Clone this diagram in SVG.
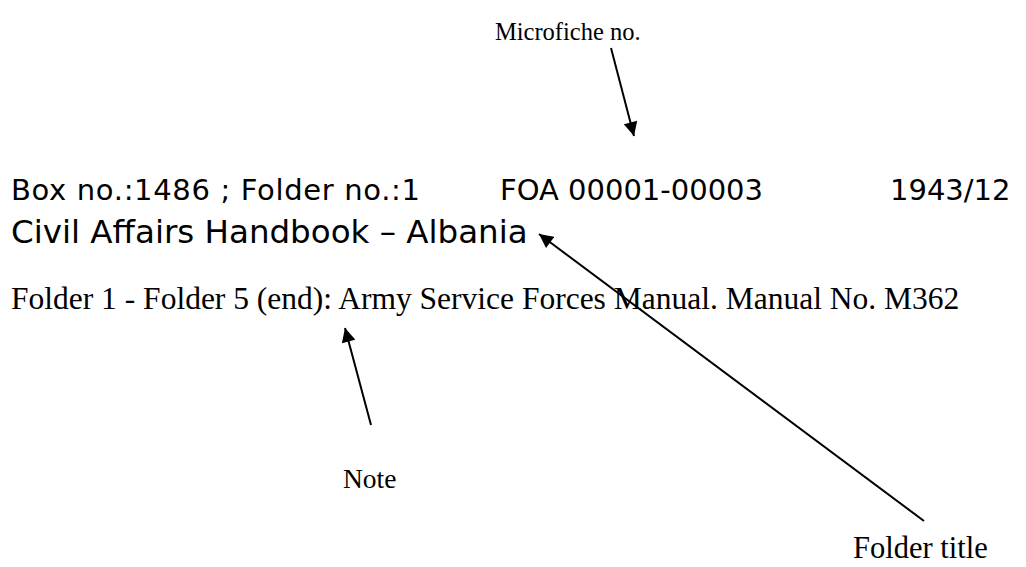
<svg xmlns="http://www.w3.org/2000/svg" width="1026" height="567" viewBox="0 0 1026 567">
<style>
.sans{font-family:"DejaVu Sans","Liberation Sans",sans-serif;font-size:29px;fill:#000}
.serif{font-family:"Liberation Serif","DejaVu Serif",serif;font-size:31.5px;fill:#000}
.conn{stroke:#000;stroke-width:2;fill:none;marker-end:url(#ah)}
</style>
<defs>
<marker id="ah" viewBox="0 0 10 10" refX="10" refY="5" markerWidth="7.5" markerHeight="7" markerUnits="strokeWidth" orient="auto">
<path d="M0,0 L10,5 L0,10 z" fill="#000"/>
</marker>
</defs>
<rect width="1026" height="567" fill="#fff"/>
<g id="record">
<text class="sans" x="11" y="200" textLength="409" lengthAdjust="spacing">Box no.:1486 ; Folder no.:1</text>
<text class="sans" x="500" y="200">FOA 00001-00003</text>
<text class="sans" x="890" y="200">1943/12</text>
<text class="sans" x="11" y="243" style="font-size:32.5px">Civil Affairs Handbook – Albania</text>
<text class="serif" x="11" y="309">Folder 1 - Folder 5 (end): Army Service Forces Manual. Manual No. M362</text>
</g>
<g id="label-microfiche"><text class="serif" x="495" y="40" style="font-size:24.5px">Microfiche no.</text></g>
<g id="label-note"><text class="serif" x="343" y="488" style="font-size:27.5px">Note</text></g>
<g id="label-folder-title"><text class="serif" x="853" y="558" style="font-size:30.5px">Folder title</text></g>
<g id="connectors">
<line class="conn" x1="611" y1="48" x2="634" y2="136"/>
<line class="conn" x1="371" y1="425" x2="345" y2="328"/>
<line class="conn" x1="924" y1="521" x2="539" y2="234"/>
</g>
</svg>
